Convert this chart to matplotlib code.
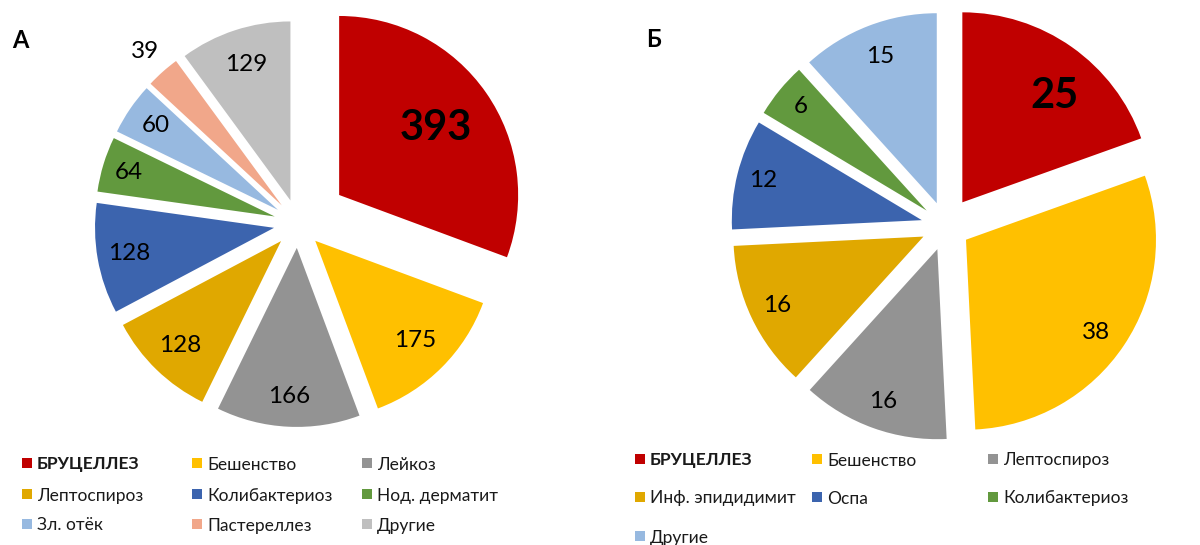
import matplotlib
matplotlib.use('Agg')
import matplotlib.pyplot as plt
from matplotlib.patches import Rectangle
import numpy as np

plt.rcParams['font.family'] = ['Lato', 'DejaVu Sans']

# ---- data ----
cats_a = ['БРУЦЕЛЛЕЗ', 'Бешенство', 'Лейкоз', 'Лептоспироз', 'Колибактериоз',
          'Нод. дерматит', 'Зл. отёк', 'Пастереллез', 'Другие']
vals_a = [393, 175, 166, 128, 128, 64, 60, 39, 129]
colors_a = ['#C00000', '#FFC000', '#939393', '#E0A800', '#3C64AE',
            '#62993E', '#97B9E0', '#F1A78A', '#BFBFBF']

cats_b = ['БРУЦЕЛЛЕЗ', 'Бешенство', 'Лептоспироз', 'Инф. эпидидимит',
          'Оспа', 'Колибактериоз', 'Другие']
vals_b = [25, 38, 16, 16, 12, 6, 15]
colors_b = ['#C00000', '#FFC000', '#939393', '#E0A800', '#3C64AE',
            '#62993E', '#97B9E0']

W, H = 1200, 545
fig = plt.figure(figsize=(W / 100, H / 100), dpi=100)


def pie_axes(cx, cy, R, lim=1.5):
    size = 2 * lim * R
    return fig.add_axes([(cx - lim * R) / W, (H - cy - lim * R) / H,
                         size / W, size / H])


def draw_pie(ax, vals, colors, explode, label_r, label_dang, big_idx=0):
    wedges, _ = ax.pie(vals, colors=colors, startangle=90, counterclock=False,
                       explode=explode, radius=1, center=(0, 0),
                       wedgeprops=dict(linewidth=0))
    for i, (w, v) in enumerate(zip(wedges, vals)):
        mid = np.deg2rad((w.theta1 + w.theta2) / 2 + label_dang[i])
        wx, wy = w.center
        x = wx + label_r[i] * np.cos(mid)
        y = wy + label_r[i] * np.sin(mid)
        if i == big_idx:
            ax.text(x, y, str(v), ha='center', va='center', fontsize=30,
                    fontweight='bold', color='black')
        else:
            ax.text(x, y, str(v), ha='center', va='center', fontsize=17.5,
                    color='black')
    ax.set_xlim(-1.5, 1.5)
    ax.set_ylim(-1.5, 1.5)
    ax.set_aspect('equal')
    ax.axis('off')


ax_a = pie_axes(298, 223.6, 179)
draw_pie(ax_a, vals_a, colors_a,
         explode=[0.28] + [0.136] * 8,
         label_r=[0.66, 0.79, 0.83, 0.81, 0.82, 0.85, 0.83, 1.15, 0.80],
         label_dang=[0] * 9)

ax_b = pie_axes(945.6, 226.1, 190)
draw_pie(ax_b, vals_b, colors_b,
         explode=[0.153] + [0.129] * 6,
         label_r=[0.74, 0.84, 0.85, 0.85, 0.86, 0.86, 0.83],
         label_dang=[-6, -2, 0, 0, 0, 0, 0])


def legend(names, cols, col_x, row_y, msize=10, gap=5, fs=12.5):
    ncol = len(col_x)
    for i, (n, c) in enumerate(zip(names, cols)):
        x = col_x[i % ncol]
        y = row_y[i // ncol]
        fig.patches.append(Rectangle(((x) / W, 1 - (y + msize / 2) / H),
                                     msize / W, msize / H, facecolor=c,
                                     edgecolor='none',
                                     transform=fig.transFigure, figure=fig))
        fig.text((x + msize + gap) / W, 1 - y / H, n, fontsize=fs,
                 fontweight='bold' if i == 0 else 'normal',
                 color='#1a1a1a', ha='left', va='center_baseline')


legend(cats_a, colors_a, [22, 192, 362], [463, 494, 524])
legend(cats_b, colors_b, [635, 812, 988], [459, 497, 536])

fig.text(20 / W, 1 - 40 / H, 'А', fontsize=17, fontweight='bold',
         ha='center', va='center')
fig.text(654 / W, 1 - 39 / H, 'Б', fontsize=17, fontweight='bold',
         ha='center', va='center')

fig.savefig('out.png', dpi=100)
